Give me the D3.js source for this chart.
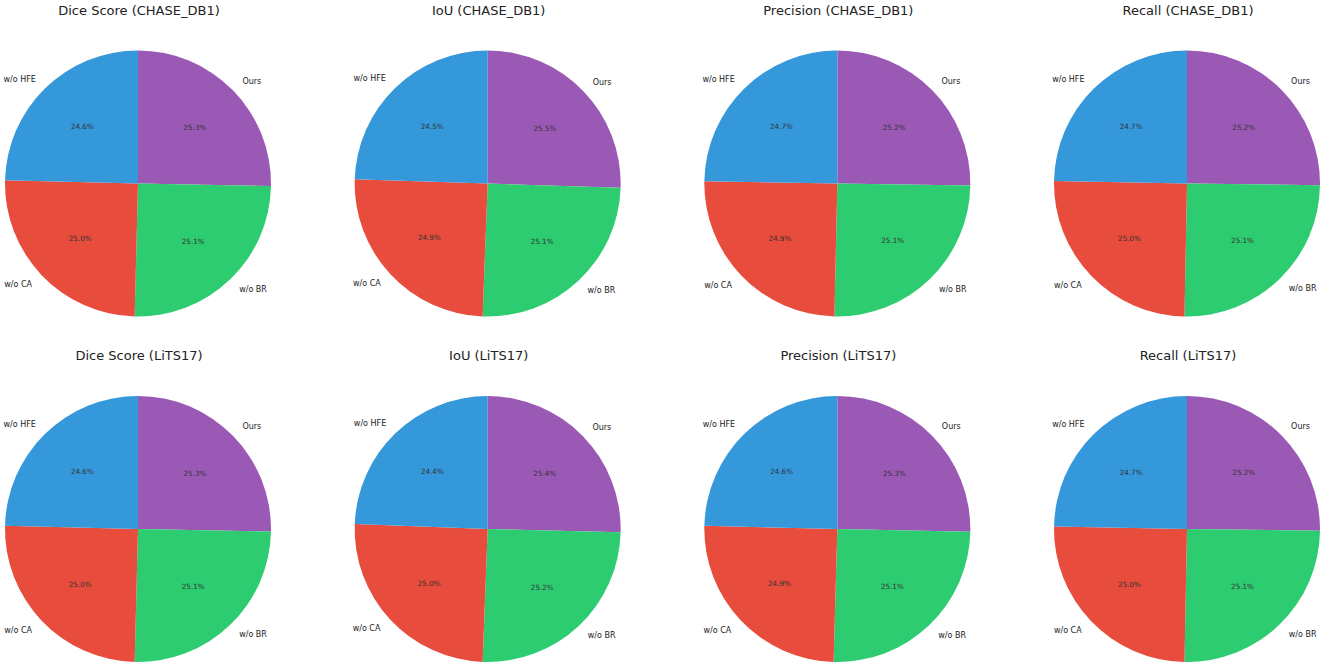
<!DOCTYPE html>
<html lang="en">
<head>
    <meta charset="UTF-8">
    <title>Ablation pies</title>
</head>
<script src="https://cdn.jsdelivr.net/npm/d3@7"></script>
<style>
    body { margin: 0; background: #fff; }
    svg { display: block; font-family: "DejaVu Sans", sans-serif; }
</style>
<body>
    <div id="graphic"></div>
</body>
<script>
    // slice order, clockwise from 12 o'clock
    var methods = ["Ours", "w/o BR", "w/o CA", "w/o HFE"];
    var metrics = ["Dice Score", "IoU", "Precision", "Recall"];
    var datasets = ["CHASE_DB1", "LiTS17"];

    // shares (%), one row per metric
    var chaseValues = [
        [25.3, 25.1, 25.0, 24.6],
        [25.5, 25.1, 24.9, 24.5],
        [25.2, 25.1, 24.9, 24.7],
        [25.2, 25.1, 25.0, 24.7]
    ];
    var litsValues = [
        [25.3, 25.1, 25.0, 24.6],
        [25.4, 25.2, 25.0, 24.4],
        [25.3, 25.1, 24.9, 24.6],
        [25.2, 25.1, 25.0, 24.7]
    ];

    var colors = ["#9b59b6", "#2ecc71", "#e74c3c", "#3498db"];

    var width = 1325;
    var height = 666;
    var radius = 133;

    var svg = d3.select('#graphic')
                .append('svg')
                .attr('width', width)
                .attr('height', height);

    var xCol = d3.scalePoint().domain(metrics).range([138, 1187]);
    var yRow = d3.scalePoint().domain(datasets).range([183.5, 529]);
    var color = d3.scaleOrdinal().domain(methods).range(colors);

    var pie = d3.pie().sort(null).value(d => d.value);
    var arc = d3.arc().innerRadius(0).outerRadius(radius);
    var fmt = d3.format('.1f');

    var panels = [];
    datasets.forEach(function(ds, i) {
        var table = i == 0 ? chaseValues : litsValues;
        metrics.forEach(function(m, j) {
            panels.push({
                dataset: ds,
                metric: m,
                slices: methods.map((name, k) => ({name: name, value: table[j][k]}))
            });
        });
    });

    var g = svg.selectAll('.panel')
               .data(panels)
               .join('g')
               .attr('class', 'panel')
               .attr('transform', d => 'translate(' + xCol(d.metric) + ',' + yRow(d.dataset) + ')');

    g.append('text')
     .attr('x', 1)
     .attr('y', -radius - 36)
     .attr('text-anchor', 'middle')
     .attr('font-size', 13)
     .attr('fill', '#222')
     .text(d => d.metric + ' (' + d.dataset + ')');

    g.each(function(p) {
        var sel = d3.select(this);
        var total = d3.sum(p.slices, d => d.value);
        var arcs = pie(p.slices);

        sel.selectAll('path')
           .data(arcs)
           .join('path')
           .attr('d', arc)
           .attr('fill', d => color(d.data.name));

        // percentage inside, at 0.6 r
        sel.selectAll('.pct')
           .data(arcs)
           .join('text')
           .attr('class', 'pct')
           .attr('x', d => Math.sin((d.startAngle + d.endAngle) / 2) * radius * 0.6)
           .attr('y', d => -Math.cos((d.startAngle + d.endAngle) / 2) * radius * 0.6)
           .attr('dy', '0.35em')
           .attr('text-anchor', 'middle')
           .attr('font-size', 7.2)
           .attr('fill', '#333')
           .text(d => fmt(d.data.value / total * 100) + '%');

        // method name outside, at 1.1 r
        sel.selectAll('.lbl')
           .data(arcs)
           .join('text')
           .attr('class', 'lbl')
           .attr('x', d => Math.sin((d.startAngle + d.endAngle) / 2) * radius * 1.1)
           .attr('y', d => -Math.cos((d.startAngle + d.endAngle) / 2) * radius * 1.1)
           .attr('dy', '0.35em')
           .attr('text-anchor', d => Math.sin((d.startAngle + d.endAngle) / 2) > 0 ? 'start' : 'end')
           .attr('font-size', 8)
           .attr('fill', '#222')
           .text(d => d.data.name);
    });
</script>
</html>
